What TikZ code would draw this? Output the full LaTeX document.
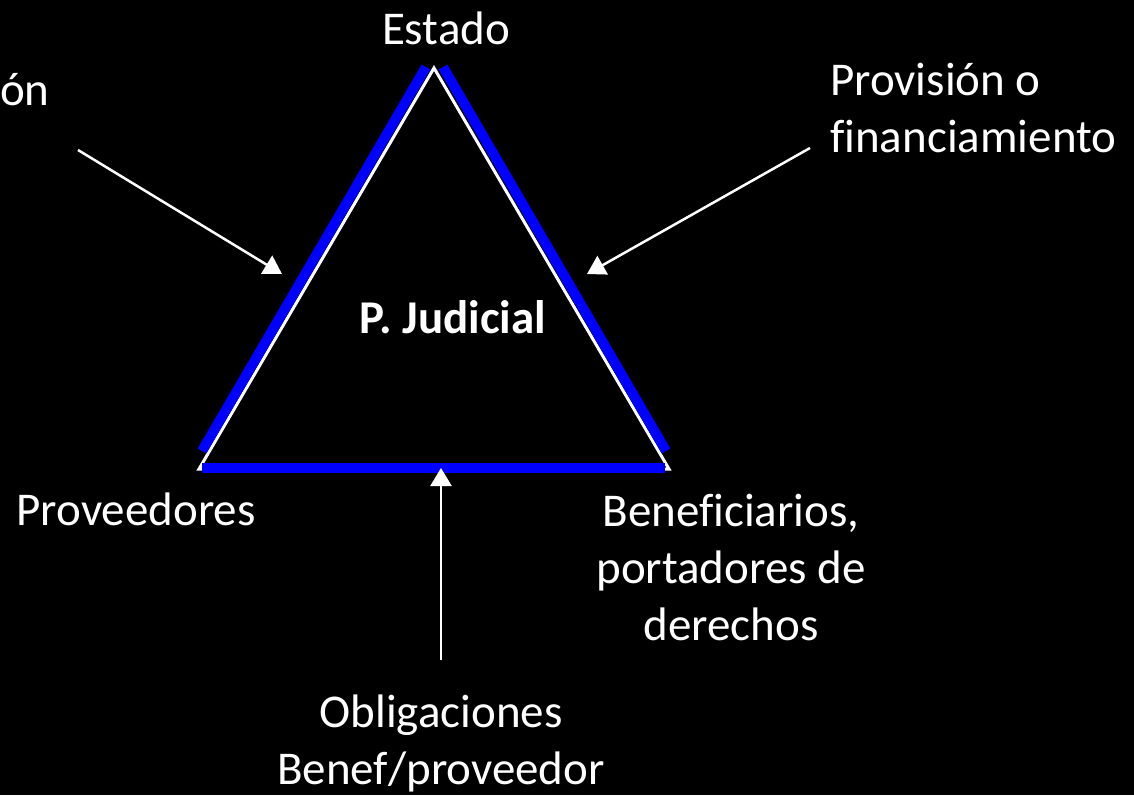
\documentclass[tikz,border=0pt]{standalone}
\usepackage{fontspec}
\setmainfont{Carlito}[Ligatures=NoCommon]
\usetikzlibrary{arrows.meta}
\definecolor{sideblue}{RGB}{0,0,255}

\begin{document}
\begin{tikzpicture}[x=1pt,y=-1pt,
  lbl/.style={text=white,font=\fontsize{47}{57}\selectfont,inner sep=0pt},
  rim/.style={white,line width=3pt},
  side/.style={sideblue,line width=10pt},
  pointer/.style={white,line width=2.5pt,-{Triangle[width=21pt,length=18pt]}}]
\fill[black] (0,0) rectangle (1134,795);
% triangle
\coordinate (top) at (434,68);
\coordinate (bl) at (199,469);
\coordinate (br) at (669,469);
\draw[rim] (bl) -- (top) -- (br) -- cycle;
\draw[side] (426,67) -- (202,451);
\draw[side] (443,67) -- (666,451);
\draw[side] (202,468) -- (665,468);
%
\node[lbl,anchor=base] (estado) at (446,44) {Estado};
\node[lbl,anchor=base west] (cut) at (0,105) {ón};
\node[lbl,anchor=west,align=left] (provision) at (830,108) {Provisión o\\financiamiento};
\node[lbl,anchor=base] (prov) at (136,525) {Proveedores};
\node[lbl,align=center] (benef) at (731,567) {Beneficiarios,\\portadores de\\derechos};
\node[lbl,anchor=base,font=\fontsize{47}{57}\selectfont\bfseries] (judicial) at (453,333) {P. Judicial};
\node[lbl,align=center] (oblig) at (441,743) {Obligaciones\\Benef/proveedor};
%
\coordinate (lfrom) at (78,150);
\coordinate (lto) at (282,274);
\coordinate (rfrom) at (810,148);
\coordinate (rto) at (587,274);
\coordinate (bfrom) at (441,660);
\coordinate (bto) at (441,468);
\draw[pointer] (lfrom) -- (lto);
\draw[pointer] (rfrom) -- (rto);
\draw[pointer] (bfrom) -- (bto);
\end{tikzpicture}
\end{document}
